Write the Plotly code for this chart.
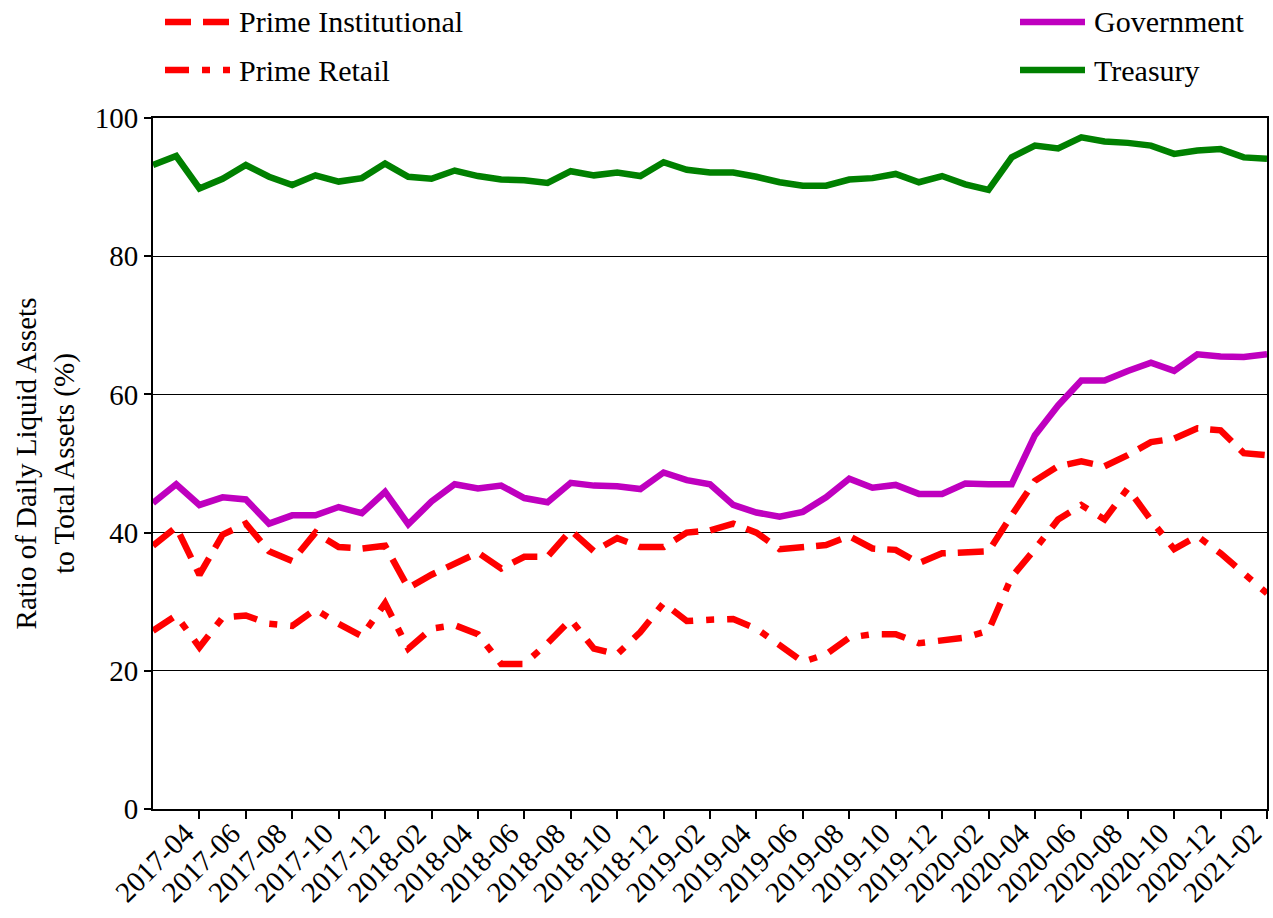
import plotly.graph_objects as go

months = [f"{y}-{m:02d}" for y in range(2017, 2022) for m in range(1, 13)]
months = months[months.index("2017-02"):months.index("2021-02") + 1]

prime_institutional = [38.1, 40.8, 33.9, 39.7, 41.3, 37.3, 35.9, 40.0, 37.9, 37.7,
                       38.1, 32.0, 33.9, 35.5, 37.1, 34.8, 36.5, 36.5, 40.3, 37.3,
                       39.2, 37.9, 37.9, 40.0, 40.3, 41.3, 40.0, 37.6, 37.8, 38.2,
                       39.5, 37.7, 37.5, 35.6, 37.0, 37.1, 37.3, 42.5, 47.5, 49.6,
                       50.3, 49.6, 51.2, 53.1, 53.6, 55.1, 54.8, 51.5, 51.2]
prime_retail = [25.8, 28.0, 23.4, 27.7, 28.0, 26.8, 26.5, 28.9, 26.8, 25.0,
                29.8, 23.2, 26.1, 26.6, 25.3, 21.0, 21.0, 24.0, 27.4, 23.2,
                22.4, 25.6, 29.8, 27.2, 27.4, 27.5, 26.1, 23.8, 21.3, 22.4,
                24.8, 25.3, 25.3, 24.0, 24.3, 24.8, 25.8, 33.6, 37.6, 41.9,
                44.0, 41.9, 46.4, 41.8, 37.6, 39.5, 37.0, 34.1, 31.2]
government = [44.3, 47.0, 44.0, 45.1, 44.8, 41.3, 42.5, 42.5, 43.7, 42.8,
              45.9, 41.2, 44.5, 47.0, 46.4, 46.8, 45.0, 44.4, 47.2, 46.8,
              46.7, 46.3, 48.7, 47.6, 47.0, 44.0, 42.9, 42.3, 43.0, 45.1,
              47.8, 46.5, 46.9, 45.6, 45.6, 47.1, 47.0, 47.0, 54.1, 58.4,
              62.0, 62.0, 63.4, 64.6, 63.4, 65.8, 65.5, 65.4, 65.8]
treasury = [93.2, 94.5, 89.8, 91.2, 93.2, 91.5, 90.3, 91.7, 90.8, 91.3,
            93.4, 91.5, 91.2, 92.4, 91.6, 91.1, 91.0, 90.6, 92.3, 91.7,
            92.1, 91.6, 93.6, 92.5, 92.1, 92.1, 91.5, 90.7, 90.2, 90.2,
            91.1, 91.3, 91.9, 90.7, 91.6, 90.4, 89.6, 94.3, 96.0, 95.6,
            97.2, 96.6, 96.4, 96.0, 94.8, 95.3, 95.5, 94.3, 94.1]

tick_labels = months[2::2]
y_ticks = [0, 20, 40, 60, 80, 100]

series = [
    ("Prime Institutional", prime_institutional, "#ff0000", "26px,12px"),
    ("Prime Retail", prime_retail, "#ff0000", "24px,13px,8px,13px"),
    ("Government", government, "#bf00bf", "solid"),
    ("Treasury", treasury, "#008000", "solid"),
]

FONT = '"Liberation Serif", "DejaVu Serif", serif'
W, H = 1273, 918
L, R, T, B = 153, 6, 118, 109

fig = go.Figure()
for name, vals, color, dash in series:
    fig.add_trace(go.Scatter(x=months, y=vals, mode="lines", name=name,
                             line=dict(color=color, width=6.5, dash=dash),
                             showlegend=False))

# manual legend (line samples + labels), positioned in paper coordinates
pw, ph = W - L - R, H - T - B
def px_x(x):
    return (x - L) / pw
def px_y(y):
    return (H - B - y) / ph

legend_pos = [(165, 22), (165, 70), (1020, 22), (1020, 70)]
for (name, vals, color, dash), (lx, ly) in zip(series, legend_pos):
    fig.add_shape(type="line", xref="paper", yref="paper",
                  x0=px_x(lx), x1=px_x(lx + 65), y0=px_y(ly), y1=px_y(ly),
                  line=dict(color=color, width=6.5, dash=dash))
    fig.add_annotation(xref="paper", yref="paper", x=px_x(lx + 72), y=px_y(ly),
                       text=name, showarrow=False, xanchor="left", yanchor="middle",
                       font=dict(family=FONT, size=30, color="black"))

fig.update_layout(
    width=W, height=H,
    margin=dict(l=L, r=R, t=T, b=B, autoexpand=False),
    plot_bgcolor="white", paper_bgcolor="white",
    font=dict(family=FONT, size=29, color="black"),
)
fig.update_xaxes(
    type="category", categoryorder="array", categoryarray=months,
    range=[0, len(months) - 1],
    tickmode="array", tickvals=tick_labels, ticktext=tick_labels,
    tickangle=-45, ticks="outside", ticklen=8, tickwidth=2, tickcolor="black",
    ticklabelshift=-14, ticklabelstandoff=-14,
    showline=True, linecolor="black", linewidth=2, mirror=True,
    showgrid=False, zeroline=False,
    tickfont=dict(family=FONT, size=29, color="black"),
)
fig.update_yaxes(
    range=[0, 100], tickmode="array", tickvals=y_ticks,
    ticks="outside", ticklen=7, tickwidth=2, tickcolor="black",
    showline=True, linecolor="black", linewidth=2, mirror=True,
    showgrid=True, gridcolor="black", gridwidth=1, zeroline=False,
    tickfont=dict(family=FONT, size=29, color="black"),
    title=dict(text="Ratio of Daily Liquid Assets<br>to Total Assets (%)",
               font=dict(family=FONT, size=29, color="black"), standoff=12),
)

fig.write_html("out.html", config={"displayModeBar": False},
               post_script="document.body.style.margin='0';document.body.style.overflow='hidden';")
